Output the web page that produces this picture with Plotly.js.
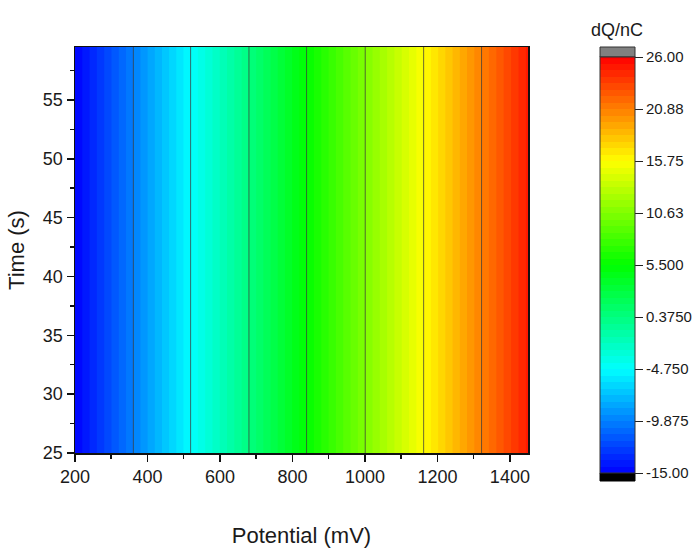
<!DOCTYPE html>
<html>
<head>
<meta charset="utf-8">
<script src="https://cdn.plot.ly/plotly-3.0.1.min.js"></script>
<style>html,body{margin:0;padding:0;background:#fff;}#chart{width:695px;height:550px;}</style>
</head>
<body>
<div id="chart"></div>
<script>
// Potential (mV) sample points
const potential = [200, 361, 519, 680, 839, 1001, 1162, 1322, 1450];
// dQ/nC at those potentials (constant along time)
const charge = [-15.0, -9.875, -4.75, 0.375, 5.5, 10.63, 15.75, 20.88, 24.9];
// Time (s) extent
const time = [25, 59.5];
// Colorbar tick values and labels
const cbTickVals = [-15, -9.875, -4.75, 0.375, 5.5, 10.625, 15.75, 20.875, 26];
const cbTickText = ["-15.00", "-9.875", "-4.750", "0.3750", "5.500", "10.63", "15.75", "20.88", "26.00"];

const zGrid = time.map(() => charge.slice());

const rainbow = [
  [0, 'rgb(0,0,255)'],
  [0.25, 'rgb(0,255,255)'],
  [0.5, 'rgb(0,255,0)'],
  [0.75, 'rgb(255,255,0)'],
  [1, 'rgb(255,0,0)']
];

const fill = {
  type: 'contour',
  x: potential, y: time, z: zGrid,
  zmin: -15, zmax: 26,
  colorscale: rainbow,
  autocontour: false,
  contours: {start: -15, end: 26, size: 41/64, coloring: 'fill', showlines: false},
  line: {width: 0},
  hoverinfo: 'skip',
  colorbar: {
    x: (600-75)/453, xanchor: 'left', xpad: 0,
    y: (453-57)/406, yanchor: 'top', ypad: 0,
    len: 416, lenmode: 'pixels',
    thickness: 35,
    outlinewidth: 1, outlinecolor: '#333',
    tickmode: 'array', tickvals: cbTickVals, ticktext: cbTickText,
    ticks: 'outside', ticklen: 8, tickcolor: '#222', tickwidth: 1,
    tickfont: {family: 'Liberation Sans, Arial, sans-serif', size: 15, color: '#1a1a1a'}
  }
};

const lines = {
  type: 'contour',
  x: potential, y: time, z: zGrid,
  autocontour: false,
  contours: {start: -9.875, end: 20.875, size: 5.125, coloring: 'none'},
  line: {color: 'rgba(60,60,60,0.75)', width: 1},
  showscale: false,
  hoverinfo: 'skip'
};

const font = {family: 'Liberation Sans, Arial, sans-serif', color: '#1a1a1a'};

const layout = {
  width: 695, height: 550,
  margin: {l: 75, r: 167, t: 47, b: 97, autoexpand: false},
  paper_bgcolor: '#fff', plot_bgcolor: '#fff',
  font: font,
  showlegend: false,
  xaxis: {
    range: [200, 1450], dtick: 200, tick0: 200,
    ticks: 'outside', ticklen: 7, tickwidth: 1.5, tickcolor: '#111',
    minor: {dtick: 100, ticks: 'outside', ticklen: 4, tickwidth: 1.5, tickcolor: '#111', showgrid: false},
    showline: true, mirror: true, linecolor: '#111', linewidth: 1.5,
    showgrid: false, zeroline: false,
    tickfont: {size: 18, family: font.family, color: '#1a1a1a'},
    title: {text: 'Potential (mV)', font: {size: 22, family: font.family, color: '#1a1a1a'}, standoff: 41}
  },
  yaxis: {
    range: [25, 59.5], dtick: 5, tick0: 25,
    ticks: 'outside', ticklen: 7, tickwidth: 1.5, tickcolor: '#111',
    minor: {dtick: 2.5, ticks: 'outside', ticklen: 4, tickwidth: 1.5, tickcolor: '#111', showgrid: false},
    showline: true, mirror: true, linecolor: '#111', linewidth: 1.5,
    showgrid: false, zeroline: false,
    tickfont: {size: 18, family: font.family, color: '#1a1a1a'},
    title: {text: 'Time (s)', font: {size: 22, family: font.family, color: '#1a1a1a'}, standoff: 12}
  },
  shapes: [
    {type: 'rect', xref: 'paper', yref: 'paper', x0: (600-75)/453, x1: (635-75)/453, y0: (453-57)/406, y1: (453-47)/406,
     fillcolor: 'rgb(128,128,128)', line: {color: '#333', width: 1}},
    {type: 'rect', xref: 'paper', yref: 'paper', x0: (600-75)/453, x1: (635-75)/453, y0: (453-481)/406, y1: (453-473)/406,
     fillcolor: 'rgb(0,0,0)', line: {color: '#000', width: 1}}
  ],
  annotations: [
    {text: 'dQ/nC', xref: 'paper', yref: 'paper', x: (617-75)/453, y: (453-30)/406, xanchor: 'center', yanchor: 'middle',
     showarrow: false, font: {size: 18, family: font.family, color: '#1a1a1a'}}
  ]
};

Plotly.newPlot('chart', [fill, lines], layout, {displayModeBar: false, staticPlot: true});
</script>
</body>
</html>
